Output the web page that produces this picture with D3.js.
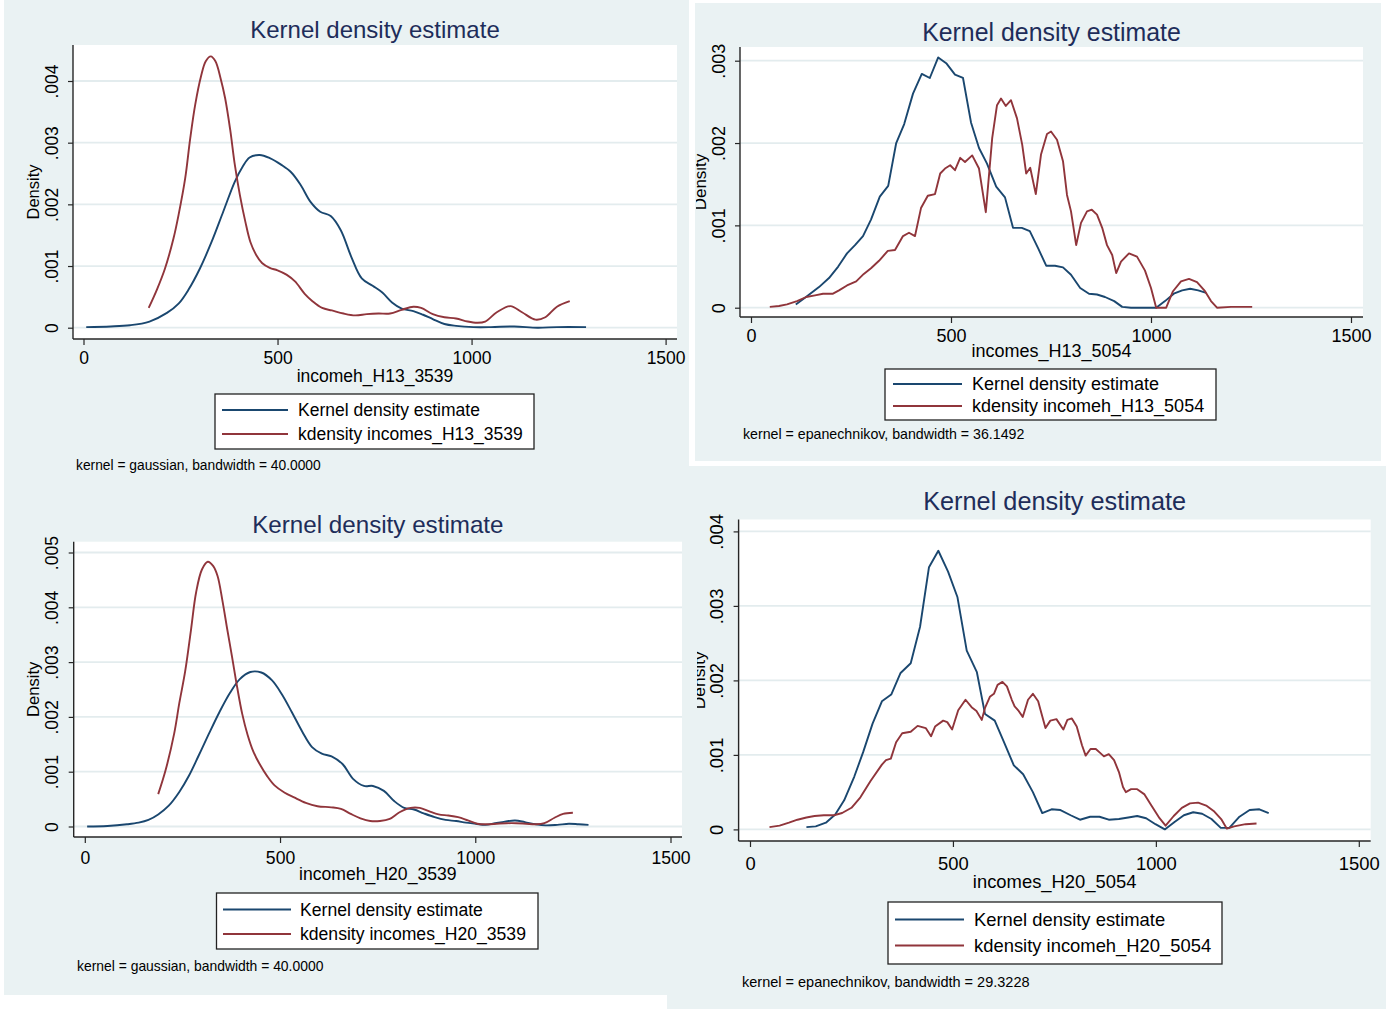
<!DOCTYPE html>
<html>
<head>
<meta charset="utf-8">
<script src="https://cdn.jsdelivr.net/npm/d3@7/dist/d3.min.js"></script>
<style>
  html, body { margin: 0; padding: 0; background: #ffffff; }
  svg { display: block; font-family: "Liberation Sans", Arial, sans-serif; }
</style>
</head>
<body>
<svg id="chart" width="1386" height="1009"></svg>
<script>
// ---- shared axis ticks ----
const xTicks = [0, 500, 1000, 1500];
const yTicksH13_3539 = [0, 0.001, 0.002, 0.003, 0.004];
const yTicksH13_5054 = [0, 0.001, 0.002, 0.003];
const yTicksH20_3539 = [0, 0.001, 0.002, 0.003, 0.004, 0.005];
const yTicksH20_5054 = [0, 0.001, 0.002, 0.003, 0.004];

// ---- series labels ----
const legendH13_3539 = ["Kernel density estimate", "kdensity incomes_H13_3539"];
const legendH13_5054 = ["Kernel density estimate", "kdensity incomeh_H13_5054"];
const legendH20_3539 = ["Kernel density estimate", "kdensity incomes_H20_3539"];
const legendH20_5054 = ["Kernel density estimate", "kdensity incomeh_H20_5054"];

// ---- densities: [income, density] ----
const kdeIncomehH13_3539 = [
  [7,0.00001],[70,0.00002],[120,0.00004],[170,0.0001],[215,0.00024],[245,0.00039],
  [270,0.00061],[300,0.00096],[330,0.00139],[360,0.00188],[390,0.00237],[410,0.00261],
  [428,0.00276],[454,0.0028],[480,0.00275],[510,0.00264],[535,0.00252],[560,0.00231],
  [585,0.00204],[610,0.00188],[637,0.00181],[663,0.00158],[690,0.00115],[717,0.0008],
  [745,0.00068],[770,0.00057],[795,0.00041],[820,0.00031],[850,0.00027],[875,0.00021],
  [900,0.00014],[930,0.00006],[960,0.00003],[1005,0.00001],[1050,0.00001],[1110,0.00002],
  [1170,0.0],[1220,0.00001],[1295,0.00001]
];
const kdeIncomesH13_3539 = [
  [168,0.00032],[190,0.00063],[210,0.00096],[232,0.00145],[245,0.00183],[262,0.00242],
  [275,0.00307],[288,0.00362],[303,0.00408],[315,0.00432],[328,0.0044],[340,0.00432],
  [353,0.00405],[365,0.00372],[378,0.00321],[390,0.00264],[403,0.00215],[417,0.00172],
  [430,0.00139],[445,0.00118],[460,0.00105],[480,0.00097],[500,0.00093],[523,0.00086],
  [545,0.00075],[570,0.00055],[590,0.00043],[615,0.00032],[640,0.00028],[670,0.00023],
  [700,0.0002],[730,0.00022],[760,0.00023],[790,0.00023],[820,0.00029],[850,0.00034],
  [870,0.00032],[900,0.00022],[930,0.00017],[960,0.00015],[990,0.0001],[1015,0.00008],
  [1035,0.0001],[1065,0.00025],[1100,0.00035],[1130,0.00025],[1165,0.00013],[1190,0.00017],
  [1220,0.00034],[1253,0.00043]
];

const kdeIncomesH13_5054 = [
  [112,0.00004],[135,0.00012],[170,0.00025],[195,0.00036],[218,0.0005],[240,0.00066],
  [260,0.00076],[280,0.00087],[300,0.00107],[322,0.00135],[343,0.00148],[363,0.002],
  [383,0.00223],[405,0.0026],[427,0.00284],[447,0.00279],[468,0.00304],[488,0.00297],
  [510,0.00283],[530,0.00279],[550,0.00225],[570,0.00194],[590,0.00175],[613,0.00147],
  [635,0.00134],[655,0.00097],[677,0.00097],[697,0.00093],[718,0.00072],[738,0.00051],
  [760,0.00051],[780,0.00049],[800,0.0004],[823,0.00024],[845,0.00017],[865,0.00016],
  [885,0.00013],[908,0.00008],[928,0.00001],[950,0],[1013,0],[1035,0.00008],[1057,0.00017],
  [1078,0.00021],[1098,0.00023],[1118,0.00021],[1138,0.00018]
];
const kdeIncomehH13_5054 = [
  [47,0.00001],[70,0.00002],[90,0.00004],[115,0.00008],[138,0.00013],[160,0.00015],
  [180,0.00017],[205,0.00017],[220,0.00021],[240,0.00027],[263,0.00032],[282,0.00041],
  [300,0.00048],[320,0.00057],[342,0.00069],[360,0.0007],[380,0.00087],[395,0.00091],
  [410,0.00087],[425,0.00121],[442,0.00136],[460,0.00138],[473,0.00163],[485,0.00169],
  [498,0.00173],[510,0.00167],[523,0.00182],[535,0.00177],[553,0.00185],[570,0.00169],
  [587,0.00116],[603,0.00206],[615,0.00246],[625,0.00254],[637,0.00245],[650,0.00252],
  [665,0.0023],[678,0.00198],[688,0.00163],[698,0.0017],[712,0.00138],[725,0.00186],
  [740,0.00211],[750,0.00214],[765,0.00204],[780,0.00178],[790,0.00137],[800,0.00117],
  [813,0.00076],[825,0.00103],[840,0.00117],[852,0.00119],[865,0.00113],[878,0.00097],
  [890,0.00076],[903,0.00064],[913,0.00042],[925,0.00056],[945,0.00066],[965,0.00062],
  [985,0.00045],[1000,0.00024],[1013,0],[1038,0],[1055,0.0002],[1075,0.00032],
  [1095,0.00035],[1115,0.00031],[1135,0.0002],[1150,0.00008],[1165,0],[1200,0.00001],
  [1253,0.00001]
];

const kdeIncomehH20_3539 = [
  [6,0],[58,0.00001],[108,0.00004],[138,0.00007],[163,0.00012],[188,0.00022],[215,0.00038],
  [242,0.00063],[267,0.00093],[292,0.0013],[317,0.00168],[345,0.00209],[372,0.00244],
  [397,0.00269],[424,0.00282],[452,0.00281],[479,0.00267],[505,0.00241],[530,0.00209],
  [557,0.00173],[582,0.00145],[607,0.00133],[632,0.00128],[660,0.00114],[687,0.00087],
  [715,0.00074],[738,0.00074],[766,0.00065],[793,0.00046],[818,0.00034],[843,0.00031],
  [868,0.00024],[896,0.00017],[924,0.00012],[951,0.0001],[976,0.00007],[1001,0.00005],
  [1026,0.00003],[1051,0.00006],[1076,0.00009],[1102,0.00011],[1127,0.00008],[1155,0.00004],
  [1180,0.00002],[1210,0.00003],[1240,0.00005],[1265,0.00004],[1290,0.00003]
];
const kdeIncomesH20_3539 = [
  [188,0.00059],[207,0.00103],[229,0.0017],[242,0.00225],[257,0.00283],[272,0.00359],
  [285,0.00427],[300,0.00469],[315,0.00483],[329,0.00475],[340,0.00457],[352,0.00414],
  [365,0.00359],[377,0.0031],[390,0.00255],[403,0.00206],[417,0.00167],[432,0.00136],
  [447,0.00115],[467,0.00092],[486,0.00075],[511,0.00062],[536,0.00053],[566,0.00043],
  [596,0.00037],[631,0.00035],[656,0.00032],[681,0.00023],[706,0.00015],[731,0.0001],
  [756,0.0001],[781,0.00014],[806,0.00026],[834,0.00034],[858,0.00034],[881,0.00028],
  [906,0.00022],[931,0.0002],[956,0.00017],[981,0.00011],[1005,0.00005],[1030,0.00004],
  [1055,0.00005],[1080,0.00006],[1105,0.00006],[1130,0.00005],[1155,0.00004],[1177,0.00006],
  [1203,0.00016],[1225,0.00023],[1250,0.00025]
];

const kdeIncomesH20_5054 = [
  [139,0.00003],[162,0.00004],[187,0.00009],[210,0.0002],[232,0.00039],[257,0.00071],
  [279,0.00104],[302,0.00142],[325,0.00172],[348,0.00181],[371,0.0021],[396,0.00223],
  [419,0.00272],[441,0.00352],[464,0.00374],[488,0.00346],[511,0.00312],[534,0.0024],
  [559,0.00211],[579,0.00155],[603,0.00146],[625,0.00118],[650,0.00086],[673,0.00074],
  [697,0.0005],[720,0.00022],[743,0.00027],[765,0.00026],[790,0.00019],[813,0.00013],
  [838,0.00017],[861,0.00017],[884,0.00013],[909,0.00014],[932,0.00016],[954,0.00018],
  [976,0.00015],[999,0.00007],[1022,0],[1046,0.0001],[1069,0.00019],[1092,0.00023],
  [1114,0.00021],[1137,0.00014],[1160,0.00002],[1181,0.00002],[1206,0.00017],[1231,0.00026],
  [1255,0.00027],[1278,0.00022]
];
const kdeIncomehH20_5054 = [
  [48,0.00003],[73,0.00005],[96,0.00009],[117,0.00013],[139,0.00016],[159,0.00018],
  [182,0.00019],[207,0.00019],[227,0.00022],[250,0.00029],[272,0.00043],[297,0.00065],
  [325,0.00087],[335,0.00093],[347,0.00095],[360,0.00117],[375,0.00129],[396,0.00131],
  [413,0.00139],[433,0.00136],[446,0.00125],[456,0.00138],[476,0.00146],[486,0.00144],
  [498,0.00134],[513,0.0016],[531,0.00174],[546,0.00164],[558,0.00159],[571,0.00147],
  [579,0.00163],[591,0.00178],[601,0.00182],[610,0.00194],[622,0.00198],[633,0.00192],
  [645,0.00174],[652,0.00165],[662,0.00159],[672,0.00151],[685,0.00174],[697,0.00182],
  [710,0.00172],[718,0.00156],[728,0.00136],[740,0.00146],[755,0.00148],[772,0.00134],
  [782,0.00147],[793,0.00149],[805,0.00138],[818,0.00113],[827,0.00099],[839,0.00108],
  [852,0.00108],[862,0.00103],[872,0.00098],[884,0.00101],[897,0.00093],[909,0.00077],
  [919,0.00057],[926,0.0005],[939,0.00054],[954,0.00054],[972,0.00047],[989,0.00032],
  [1009,0.00015],[1024,0.00005],[1044,0.00018],[1064,0.00029],[1084,0.00035],[1104,0.00036],
  [1124,0.00032],[1144,0.00024],[1162,0.00013],[1175,0.00001],[1193,0.00004],[1221,0.00007],
  [1248,0.00008]
];

// ---- styling ----
const BG = "#eaf2f3";
const GRID = "#e3ecee";
const BLUE = "#1a476f";
const RED = "#90353b";
const TITLE_COLOR = "#1e2d5a";
const AXIS_COLOR = "#262626";

// ---- panel layout (drawn in this order; the lower-left panel overlaps the lower-right one) ----
const panels = [
  {
    bg: [4, 0, 689, 480],
    plot: { l: 73, r: 677, t: 45, b: 339 },
    xRange: [83.5, 665.6], yRange: [327.7, 81], yTicks: yTicksH13_3539,
    series: [kdeIncomehH13_3539, kdeIncomesH13_3539], legend: legendH13_3539, smooth: true,
    title: "Kernel density estimate", titleY: 30, titleSize: 24,
    xTitle: "incomeh_H13_3539", xTitleY: 376, tickLabY: 358, fs: 17.5,
    legendBox: [215, 394, 534, 449], legendRows: [410, 434], legendLine: [222, 288], legendText: 298,
    note: "kernel = gaussian, bandwidth = 40.0000", noteX: 76, noteY: 465, noteSize: 13.8,
    yLabX: 52, densX: 33, densClip: null
  },
  {
    bg: [695, 3, 1381, 461],
    plot: { l: 740, r: 1363, t: 47, b: 317 },
    xRange: [751, 1351], yRange: [307.7, 60.7], yTicks: yTicksH13_5054,
    series: [kdeIncomesH13_5054, kdeIncomehH13_5054], legend: legendH13_5054, smooth: false,
    title: "Kernel density estimate", titleY: 32, titleSize: 24.9,
    xTitle: "incomes_H13_5054", xTitleY: 351, tickLabY: 336, fs: 18,
    legendBox: [885, 369, 1216, 420], legendRows: [384, 406], legendLine: [893, 962], legendText: 972,
    note: "kernel = epanechnikov, bandwidth = 36.1492", noteX: 743, noteY: 434, noteSize: 14.2,
    yLabX: 719, densX: 700, densClip: 696
  },
  {
    bg: [667, 466, 1386, 1009],
    plot: { l: 738.6, r: 1370.7, t: 519.5, b: 841 },
    xRange: [750, 1358.8], yRange: [829.4, 531.4], yTicks: yTicksH20_5054,
    series: [kdeIncomesH20_5054, kdeIncomehH20_5054], legend: legendH20_5054, smooth: false,
    title: "Kernel density estimate", titleY: 501, titleSize: 25.3,
    xTitle: "incomes_H20_5054", xTitleY: 882, tickLabY: 864, fs: 18.4,
    legendBox: [888, 902, 1222, 964], legendRows: [919.5, 945.5], legendLine: [895, 964], legendText: 974,
    note: "kernel = epanechnikov, bandwidth = 29.3228", noteX: 742, noteY: 981.5, noteSize: 14.5,
    yLabX: 716.5, densX: 699, densClip: 697
  },
  {
    bg: [4, 480, 683, 995],
    plot: { l: 73.7, r: 682, t: 541.7, b: 837 },
    xRange: [84.8, 670.5], yRange: [826.5, 552.5], yTicks: yTicksH20_3539,
    series: [kdeIncomehH20_3539, kdeIncomesH20_3539], legend: legendH20_3539, smooth: true,
    title: "Kernel density estimate", titleY: 525, titleSize: 24.2,
    xTitle: "incomeh_H20_3539", xTitleY: 874, tickLabY: 858, fs: 17.6,
    legendBox: [216.5, 893, 538, 949], legendRows: [909.5, 934], legendLine: [223, 291], legendText: 300,
    note: "kernel = gaussian, bandwidth = 40.0000", noteX: 77, noteY: 966, noteSize: 13.9,
    yLabX: 51.5, densX: 33, densClip: null
  }
];

const svg = d3.select("#chart");
const defs = svg.append("defs");
const fmtY = d => d === 0 ? "0" : d3.format(".3f")(d).replace(/^0/, "");
const colors = [BLUE, RED];

panels.forEach((p, i) => {
  const g = svg.append("g").attr("class", "panel-" + i);

  // panel background
  g.append("rect")
    .attr("x", p.bg[0]).attr("y", p.bg[1])
    .attr("width", p.bg[2] - p.bg[0]).attr("height", p.bg[3] - p.bg[1])
    .attr("fill", BG);

  // plot region
  g.append("rect")
    .attr("x", p.plot.l).attr("y", p.plot.t)
    .attr("width", p.plot.r - p.plot.l).attr("height", p.plot.b - p.plot.t)
    .attr("fill", "#ffffff");

  const x = d3.scaleLinear().domain([0, 1500]).range(p.xRange);
  const yMax = p.yTicks[p.yTicks.length - 1];
  const y = d3.scaleLinear().domain([0, yMax]).range(p.yRange);

  // horizontal grid
  g.append("g").selectAll("line").data(p.yTicks).join("line")
    .attr("x1", p.plot.l).attr("x2", p.plot.r)
    .attr("y1", d => y(d)).attr("y2", d => y(d))
    .attr("stroke", GRID).attr("stroke-width", 1.8);

  // density curves
  const line = d3.line()
    .x(d => x(d[0])).y(d => y(d[1]))
    .curve(p.smooth ? d3.curveCatmullRom.alpha(0.5) : d3.curveLinear);
  p.series.forEach((s, k) => {
    g.append("path").datum(s)
      .attr("d", line)
      .attr("fill", "none")
      .attr("stroke", colors[k])
      .attr("stroke-width", 1.9)
      .attr("stroke-linejoin", "round");
  });

  // axis lines
  g.append("line")
    .attr("x1", p.plot.l).attr("x2", p.plot.l)
    .attr("y1", p.plot.t).attr("y2", p.plot.b)
    .attr("stroke", AXIS_COLOR).attr("stroke-width", 1.4);
  g.append("line")
    .attr("x1", p.plot.l).attr("x2", p.plot.r)
    .attr("y1", p.plot.b).attr("y2", p.plot.b)
    .attr("stroke", AXIS_COLOR).attr("stroke-width", 1.4);

  // x axis ticks and labels
  const xAxis = g.append("g")
    .attr("transform", `translate(0,${p.plot.b})`)
    .call(d3.axisBottom(x).tickValues(xTicks).tickSize(6).tickFormat(d3.format("d")));
  xAxis.select(".domain").remove();
  xAxis.selectAll(".tick line").attr("stroke", AXIS_COLOR).attr("stroke-width", 1.2);
  xAxis.selectAll(".tick text")
    .attr("y", p.tickLabY - p.plot.b).attr("dy", "0.35em")
    .attr("fill", "#000").style("font-size", p.fs + "px")
    .style("font-family", "'Liberation Sans', Arial, sans-serif");

  // y axis ticks and rotated labels
  const yAxis = g.append("g")
    .attr("transform", `translate(${p.plot.l},0)`)
    .call(d3.axisLeft(y).tickValues(p.yTicks).tickSize(5).tickFormat(fmtY));
  yAxis.select(".domain").remove();
  yAxis.selectAll(".tick line").attr("stroke", AXIS_COLOR).attr("stroke-width", 1.2);
  yAxis.selectAll(".tick text")
    .attr("x", null).attr("dy", "0.35em")
    .attr("transform", `translate(${p.yLabX - p.plot.l},0) rotate(-90)`)
    .attr("text-anchor", "middle")
    .attr("fill", "#000").style("font-size", p.fs + "px")
    .style("font-family", "'Liberation Sans', Arial, sans-serif");

  // y axis title (cut at the panel's left edge where the panel is cropped)
  const cy = (p.plot.t + p.plot.b) / 2;
  const densHolder = g.append("g");
  if (p.densClip !== null) {
    const id = "dens-clip-" + i;
    defs.append("clipPath").attr("id", id).append("rect")
      .attr("x", p.densClip).attr("y", p.plot.t)
      .attr("width", 60).attr("height", p.plot.b - p.plot.t);
    densHolder.attr("clip-path", `url(#${id})`);
  }
  densHolder.append("text")
    .attr("transform", `translate(${p.densX},${cy}) rotate(-90)`)
    .attr("text-anchor", "middle").attr("dy", "0.35em")
    .style("font-size", (p.fs - 1) + "px").attr("fill", "#000")
    .text("Density");

  // title
  const cx = (p.plot.l + p.plot.r) / 2;
  g.append("text")
    .attr("x", cx).attr("y", p.titleY).attr("dy", "0.35em")
    .attr("text-anchor", "middle").attr("fill", TITLE_COLOR)
    .style("font-size", p.titleSize + "px")
    .text(p.title);

  // x axis title
  g.append("text")
    .attr("x", cx).attr("y", p.xTitleY).attr("dy", "0.35em")
    .attr("text-anchor", "middle").attr("fill", "#000")
    .style("font-size", p.fs + "px")
    .text(p.xTitle);

  // legend
  const lb = p.legendBox;
  g.append("rect")
    .attr("x", lb[0]).attr("y", lb[1]).attr("width", lb[2] - lb[0]).attr("height", lb[3] - lb[1])
    .attr("fill", "#ffffff").attr("stroke", "#222").attr("stroke-width", 1.3);
  p.legend.forEach((lab, k) => {
    g.append("line")
      .attr("x1", p.legendLine[0]).attr("x2", p.legendLine[1])
      .attr("y1", p.legendRows[k]).attr("y2", p.legendRows[k])
      .attr("stroke", colors[k]).attr("stroke-width", 1.9);
    g.append("text")
      .attr("x", p.legendText).attr("y", p.legendRows[k]).attr("dy", "0.35em")
      .attr("fill", "#000").style("font-size", p.fs + "px")
      .text(lab);
  });

  // kernel note
  g.append("text")
    .attr("x", p.noteX).attr("y", p.noteY).attr("dy", "0.35em")
    .attr("fill", "#000").style("font-size", p.noteSize + "px")
    .text(p.note);
});
</script>
</body>
</html>
